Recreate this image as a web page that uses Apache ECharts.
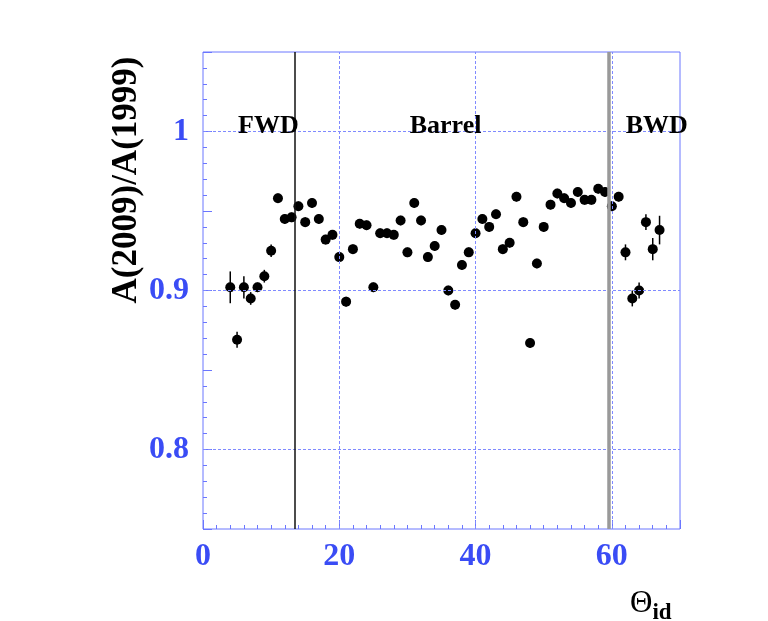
<!DOCTYPE html>
<html>
<head>
<meta charset="utf-8">
<script src="https://cdn.jsdelivr.net/npm/echarts@6/dist/echarts.min.js"></script>
<style>
  html, body { margin: 0; padding: 0; background: #fff; }
  #chart { width: 768px; height: 621px; }
</style>
</head>
<body>
<div id="chart"></div>
<script>
// detector theta id and efficiency ratio A(2009)/A(1999)
var thetaId = [4, 5, 6, 7, 8, 9, 10, 11, 12, 13, 14, 15, 16, 17, 18, 19, 20, 21, 22, 23,
    24, 25, 26, 27, 28, 29, 30, 31, 32, 33, 34, 35, 36, 37, 38, 39, 40, 41, 42, 43,
    44, 45, 46, 47, 48, 49, 50, 51, 52, 53, 54, 55, 56, 57, 58, 59, 60, 61, 62, 63,
    64, 65, 66, 67];
var ratio = [0.902, 0.869, 0.902, 0.895, 0.902, 0.909, 0.925, 0.958, 0.945, 0.946,
    0.953, 0.943, 0.955, 0.945, 0.932, 0.935, 0.921, 0.893, 0.926, 0.942,
    0.941, 0.902, 0.936, 0.936, 0.935, 0.944, 0.924, 0.955, 0.944, 0.921,
    0.928, 0.938, 0.900, 0.891, 0.916, 0.924, 0.936, 0.945, 0.940, 0.948,
    0.926, 0.930, 0.959, 0.943, 0.867, 0.917, 0.940, 0.954, 0.961, 0.958,
    0.955, 0.962, 0.957, 0.957, 0.964, 0.962, 0.953, 0.959, 0.924, 0.895,
    0.900, 0.943, 0.926, 0.938];
var ratioErr = [0.010, 0.005, 0.007, 0.004, 0.003, 0.004, 0.004, 0.003, 0.003, 0.003,
    0.003, 0.003, 0.003, 0.003, 0.003, 0.003, 0.003, 0.003, 0.003, 0.003,
    0.003, 0.003, 0.003, 0.003, 0.003, 0.003, 0.003, 0.003, 0.003, 0.003,
    0.003, 0.003, 0.003, 0.003, 0.003, 0.003, 0.003, 0.003, 0.003, 0.003,
    0.003, 0.003, 0.003, 0.003, 0.003, 0.003, 0.003, 0.003, 0.003, 0.003,
    0.003, 0.003, 0.003, 0.003, 0.003, 0.003, 0.003, 0.003, 0.005, 0.005,
    0.005, 0.005, 0.007, 0.009];

// region labels and boundaries
var regionNames = ['FWD', 'Barrel', 'BWD'];
var regionX = [9.6, 35.6, 66.6];
var regionY = 1.003;
var boundaryFwd = 13.5;
var boundaryBwd = 59.6;

// grid lines
var xGridValues = [20, 40, 60];
var yGridValues = [0.8, 0.9, 1.0];

var blue = '#3a4cf5';
var frame = '#6a76ff';
var gridCol = '#7f8aff';
var serif = '"Liberation Serif", "DejaVu Serif", serif';

var points = thetaId.map(function (x, i) { return [x, ratio[i]]; });
var errData = thetaId.map(function (x, i) { return [x, ratio[i] - ratioErr[i], ratio[i] + ratioErr[i]]; });
var labelData = regionNames.map(function (n, i) { return { name: n, value: [regionX[i], regionY] }; });

var gridLines = [];
xGridValues.forEach(function (v) { gridLines.push({ xAxis: v }); });
yGridValues.forEach(function (v) { gridLines.push({ yAxis: v }); });

var myChart = echarts.init(document.getElementById('chart'));
var option = {
    animation: false,
    backgroundColor: '#fff',
    grid: {
        left: 203, top: 52, width: 477, height: 477,
        show: true, borderColor: frame, borderWidth: 1, backgroundColor: 'transparent'
    },
    xAxis: {
        type: 'value', min: 0, max: 70, interval: 20,
        axisLine: { show: false },
        axisTick: { show: true, inside: true, length: 9, lineStyle: { color: frame } },
        minorTick: { show: true, splitNumber: 10, length: 4, lineStyle: { color: frame } },
        splitLine: { show: false },
        axisLabel: {
            color: blue, fontFamily: serif, fontWeight: 'bold', fontSize: 32, margin: 12,
            formatter: function (v) { return v % 20 === 0 ? String(v) : ''; }
        }
    },
    yAxis: {
        type: 'value', min: 0.75, max: 1.05, interval: 0.05,
        axisLine: { show: false },
        axisTick: { show: true, inside: true, length: 9, lineStyle: { color: frame } },
        minorTick: { show: true, splitNumber: 5, length: 4, lineStyle: { color: frame } },
        splitLine: { show: false },
        axisLabel: {
            color: blue, fontFamily: serif, fontWeight: 'bold', fontSize: 32, margin: 14,
            formatter: function (v) {
                var r = Math.round(v * 100) / 100;
                if (Math.abs(r - 0.8) < 1e-6) return '0.8';
                if (Math.abs(r - 0.9) < 1e-6) return '0.9';
                if (Math.abs(r - 1.0) < 1e-6) return '1';
                return '';
            }
        }
    },
    graphic: [
        {
            type: 'text', x: 127, y: 180, rotation: Math.PI / 2,
            style: {
                text: 'A(2009)/A(1999)', fill: '#000', fontFamily: serif,
                fontWeight: 'bold', fontSize: 35, align: 'center', verticalAlign: 'middle'
            }
        },
        {
            type: 'text', x: 630, y: 582,
            style: {
                text: '{a|Θ}{b|id}',
                rich: {
                    a: { fontFamily: serif, fontSize: 31, fill: '#000' },
                    b: { fontFamily: serif, fontSize: 23, fill: '#000', fontWeight: 'bold', padding: [20, 0, 0, 0] }
                }
            }
        }
    ],
    series: [
        {
            type: 'scatter', data: [], silent: true,
            markLine: {
                silent: true, symbol: 'none', label: { show: false },
                lineStyle: { color: gridCol, type: [3, 2], width: 1, opacity: 1 },
                emphasis: { disabled: true },
                data: gridLines
            }
        },
        {
            type: 'scatter', data: [], silent: true,
            markLine: {
                silent: true, symbol: 'none', label: { show: false },
                emphasis: { disabled: true },
                data: [
                    { xAxis: boundaryFwd, lineStyle: { color: '#111', type: 'solid', width: 1.5, opacity: 1 } },
                    { xAxis: boundaryBwd, lineStyle: { color: '#999', type: 'solid', width: 3.5, opacity: 1 } }
                ]
            }
        },
        {
            type: 'custom', silent: true, data: errData,
            renderItem: function (params, api) {
                var lo = api.coord([api.value(0), api.value(1)]);
                var hi = api.coord([api.value(0), api.value(2)]);
                return {
                    type: 'line',
                    shape: { x1: lo[0], y1: lo[1], x2: hi[0], y2: hi[1] },
                    style: { stroke: '#000', lineWidth: 1.5 }
                };
            },
            z: 3
        },
        {
            type: 'scatter', data: points, symbol: 'circle', symbolSize: 10,
            itemStyle: { color: '#000', opacity: 1 }, z: 4
        },
        {
            type: 'scatter', data: labelData, symbolSize: 0, silent: true,
            itemStyle: { opacity: 1 },
            label: {
                show: true, position: 'inside', formatter: '{b}',
                color: '#000', fontFamily: serif, fontWeight: 'bold', fontSize: 26
            },
            z: 5
        }
    ]
};
myChart.setOption(option);
</script>
</body>
</html>
